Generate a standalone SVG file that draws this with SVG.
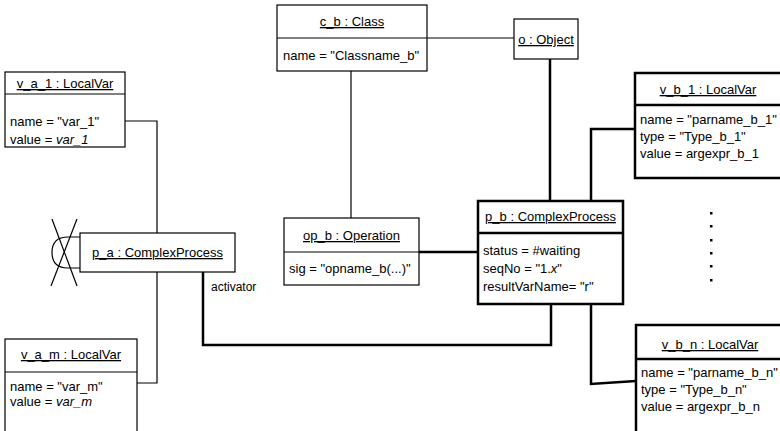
<svg xmlns="http://www.w3.org/2000/svg" width="780" height="431" viewBox="0 0 780 431">
<style>
text{font-family:"Liberation Sans",Arial,sans-serif;font-size:13px;fill:#000}
.t{text-anchor:middle;text-decoration:underline}
.i{font-style:italic}
.box{fill:#fff;stroke:#000;stroke-width:1.2}
.bb{fill:#fff;stroke:#000;stroke-width:2.5}
.thin{fill:none;stroke:#000;stroke-width:1.2}
.thick{fill:none;stroke:#000;stroke-width:2.5}
.lbl{font-size:12px}
</style>
<rect width="780" height="431" fill="#fff"/>
<g id="connectors">
<path class="thin" d="M427,38 H514"/>
<path class="thin" d="M351,71 V218"/>
<path class="thick" d="M550,59 V201"/>
<path class="thick" d="M419,252 H478"/>
<path class="thin" d="M125,121 H157 V233"/>
<path class="thin" d="M157,272 V383 H137"/>
<path class="thick" d="M203,272 V345 H551 V304"/>
<path class="thick" d="M591,201 V129 H635"/>
<path class="thick" d="M591,304 V384 L636,381"/>
<text class="lbl" x="211" y="291">activator</text>
</g>
<g id="c_b">
<rect class="box" x="277" y="5" width="150" height="66"/>
<line class="thin" x1="277" y1="38" x2="427" y2="38"/>
<text class="t" x="352" y="26">c_b : Class</text>
<text x="283" y="60">name = "Classname_b"</text>
</g>
<g id="o">
<rect class="box" x="514" y="19" width="64" height="40"/>
<text class="t" x="546" y="44">o : Object</text>
</g>
<g id="v_a_1">
<rect class="box" x="5" y="72" width="120" height="75"/>
<line class="thin" x1="5" y1="94" x2="125" y2="94"/>
<text class="t" x="65" y="88">v_a_1 : LocalVar</text>
<text x="10" y="126">name = "var_1"</text>
<text x="10" y="144">value = <tspan class="i">var_1</tspan></text>
</g>
<g id="p_a">
<path class="thin" d="M80,237 H68 Q52,237 52,252.5 Q52,268 68,268 H80"/>
<line class="thin" x1="52" y1="219" x2="77" y2="286"/>
<line class="thin" x1="77" y1="219" x2="51" y2="286"/>
<rect class="box" x="80" y="233" width="155" height="39"/>
<text class="t" x="157.5" y="257">p_a : ComplexProcess</text>
</g>
<g id="op_b">
<rect class="box" x="284" y="218" width="135" height="67"/>
<line class="thin" x1="284" y1="252" x2="419" y2="252"/>
<text class="t" x="351.5" y="240">op_b : Operation</text>
<text x="289" y="273">sig = "opname_b(...)"</text>
</g>
<g id="p_b">
<rect class="bb" x="478" y="201" width="145" height="103"/>
<line class="thick" x1="478" y1="233" x2="623" y2="233"/>
<text class="t" x="550.5" y="221">p_b : ComplexProcess</text>
<text x="483" y="255">status = #waiting</text>
<text x="483" y="273">seqNo = "1.<tspan class="i">x</tspan>"</text>
<text x="483" y="291">resultVarName= "r"</text>
</g>
<g id="v_b_1">
<rect class="bb" x="635" y="73" width="150" height="105"/>
<line class="thick" x1="635" y1="105" x2="785" y2="105"/>
<text class="t" x="708" y="94">v_b_1 : LocalVar</text>
<text x="640" y="124">name = "parname_b_1"</text>
<text x="640" y="141">type = "Type_b_1"</text>
<text x="640" y="158">value = argexpr_b_1</text>
</g>
<g id="dots" fill="#000">
<rect x="710" y="212" width="2.5" height="2.5"/>
<rect x="710" y="225" width="2.5" height="2.5"/>
<rect x="710" y="239" width="2.5" height="2.5"/>
<rect x="710" y="252" width="2.5" height="2.5"/>
<rect x="710" y="265" width="2.5" height="2.5"/>
<rect x="710" y="279" width="2.5" height="2.5"/>
</g>
<g id="v_b_n">
<rect class="bb" x="636" y="325" width="150" height="115"/>
<line class="thick" x1="636" y1="359" x2="786" y2="359"/>
<text class="t" x="710" y="349">v_b_n : LocalVar</text>
<text x="641" y="377">name = "parname_b_n"</text>
<text x="641" y="394">type = "Type_b_n"</text>
<text x="641" y="411">value = argexpr_b_n</text>
</g>
<g id="v_a_m">
<rect class="box" x="5" y="339" width="132" height="100"/>
<line class="thin" x1="5" y1="372" x2="137" y2="372"/>
<text class="t" x="71" y="359">v_a_m : LocalVar</text>
<text x="10" y="391">name = "var_m"</text>
<text x="10" y="406">value = <tspan class="i">var_m</tspan></text>
</g>
</svg>
